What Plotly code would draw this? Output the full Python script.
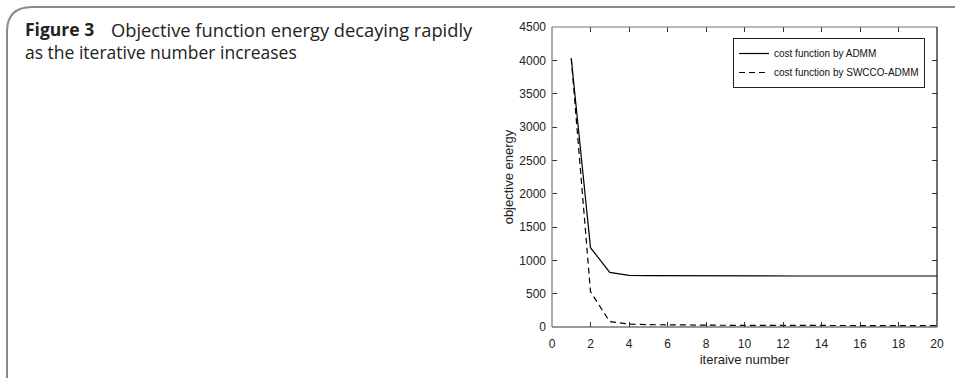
import plotly.graph_objects as go

iterations = list(range(1, 21))
admm = [4030, 1190, 820, 775, 770, 768, 767, 767, 766, 766, 766, 766, 765, 765, 765, 765, 765, 765, 765, 765]
swcco = [4030, 530, 80, 45, 35, 30, 28, 27, 26, 25, 25, 24, 24, 23, 23, 22, 22, 21, 21, 20]
x_ticks = list(range(0, 21, 2))
y_ticks = list(range(0, 4501, 500))

W, H = 955, 378
L, R, T, B = 552, 18, 27, 51
pw, ph = W - L - R, H - T - B

def px(x):
    return (x - L) / pw

def py(y):
    return (H - B - y) / ph

SANS = "Liberation Sans, Arial, sans-serif"

fig = go.Figure()
fig.add_trace(go.Scatter(x=iterations, y=admm, mode="lines", name="cost function by ADMM",
                         line=dict(color="black", width=1.2)))
fig.add_trace(go.Scatter(x=iterations, y=swcco, mode="lines", name="cost function by SWCCO-ADMM",
                         line=dict(color="black", width=1.2, dash="6px,4px")))

tickfont = dict(family=SANS, size=12, color="#222")
fig.update_layout(
    width=W, height=H,
    margin=dict(l=L, r=R, t=T, b=B, autoexpand=False),
    paper_bgcolor="white", plot_bgcolor="white",
    showlegend=True,
    legend=dict(x=px(733), y=py(38), xanchor="left", yanchor="top",
                bgcolor="white", bordercolor="#222", borderwidth=1,
                font=dict(family=SANS, size=10, color="#111"),
                tracegroupgap=0, itemwidth=30),
    xaxis=dict(range=[0, 20], tickvals=x_ticks, ticks="inside", ticklen=5, tickcolor="#333",
               showgrid=False, zeroline=False, showline=False, mirror=False, automargin=False,
               tickfont=tickfont, ticklabelstandoff=8,
               title=dict(text="iteraive number", font=dict(family=SANS, size=13, color="#222"), standoff=4)),
    yaxis=dict(range=[0, 4500], tickvals=y_ticks, ticks="inside", ticklen=5, tickcolor="#333",
               showgrid=False, zeroline=False, showline=False, mirror=False, automargin=False,
               tickfont=tickfont, ticklabelstandoff=5,
               title=dict(text="objective energy", font=dict(family=SANS, size=13, color="#222"), standoff=2)),
    xaxis2=dict(overlaying="x", side="top", range=[0, 20], tickvals=x_ticks, ticks="inside",
                ticklen=5, tickcolor="#333", showticklabels=False, showgrid=False, zeroline=False,
                automargin=False),
    yaxis2=dict(overlaying="y", side="right", range=[0, 4500], tickvals=y_ticks, ticks="inside",
                ticklen=5, tickcolor="#333", showticklabels=False, showgrid=False, zeroline=False,
                automargin=False),
)
fig.add_trace(go.Scatter(x=[None], y=[None], xaxis="x2", yaxis="y2", showlegend=False, hoverinfo="skip"))

# axes box
box = [
    (0, 1, 1, 1, "#777"),  # top
    (0, 0, 0, 1, "#777"),  # left
    (1, 0, 1, 1, "#111"),  # right
    (0, 0, 1, 0, "#333"),  # bottom
]
for x0, y0, x1, y1, c in box:
    fig.add_shape(type="line", xref="paper", yref="paper", x0=x0, y0=y0, x1=x1, y1=y1,
                  line=dict(color=c, width=1.2), layer="above")

# outer rounded frame
frame = (f"M {px(7)},{py(380)} L {px(7)},{py(32)} Q {px(7)},{py(7)} {px(32)},{py(7)} L {px(957)},{py(7)}")
fig.add_shape(type="path", xref="paper", yref="paper", path=frame,
              line=dict(color="#8a8a8a", width=2))

capfont = dict(family="Open Sans, sans-serif", size=17.5, color="#222")
fig.add_annotation(xref="paper", yref="paper", x=px(23), y=py(29), xanchor="left", yanchor="middle",
                   text="<b>Figure 3</b>", showarrow=False, font=capfont, align="left")
fig.add_annotation(xref="paper", yref="paper", x=px(109), y=py(29), xanchor="left", yanchor="middle",
                   text="Objective function energy decaying rapidly",
                   showarrow=False, font=dict(family="Open Sans, sans-serif", size=18.3, color="#222"),
                   align="left")
fig.add_annotation(xref="paper", yref="paper", x=px(23), y=py(52), xanchor="left", yanchor="middle",
                   text="as the iterative number increases",
                   showarrow=False, font=capfont, align="left")

fig.write_html("out.html", config={"displayModeBar": False},
               post_script="document.body.style.margin='0';document.body.style.overflow='hidden';")
